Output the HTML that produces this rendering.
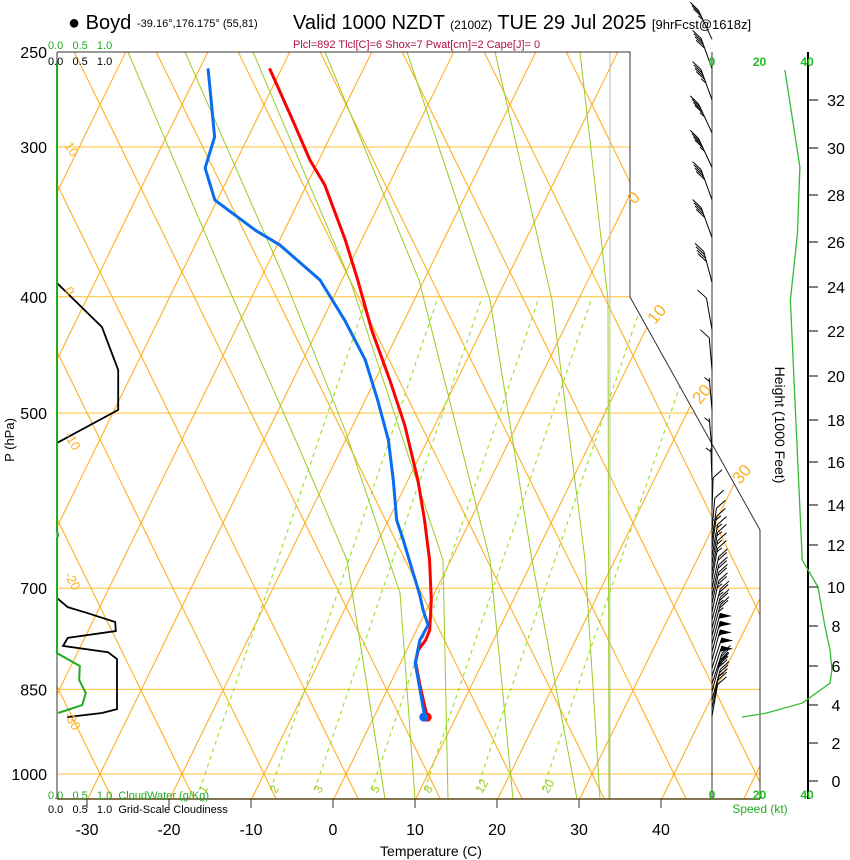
<!DOCTYPE html>
<html><head><meta charset="utf-8"><style>
body{margin:0;background:#fff;}
svg{display:block;font-family:"Liberation Sans",sans-serif;}
</style></head><body>
<svg id="chart" width="850" height="860" viewBox="0 0 850 860" xmlns="http://www.w3.org/2000/svg">
<defs><clipPath id="plotclip"><polygon points="57,52 630,52 630,297 760,530 760,799 57,799"/></clipPath></defs>
<g id="grid" clip-path="url(#plotclip)"></g>
<g id="frame">
<polyline points="57,52 630,52 630,297 760,530 760,799" fill="none" stroke="#333" stroke-width="1"/>
<line x1="57" y1="799" x2="760" y2="799" stroke="#5a4a1a" stroke-width="1.5"/>
<line x1="57" y1="52" x2="57" y2="799" stroke="#333" stroke-width="1"/>
<line x1="712" y1="52" x2="712" y2="799" stroke="#333" stroke-width="1"/>
<line x1="808" y1="52" x2="808" y2="799" stroke="#000" stroke-width="2"/>
</g>
<g id="series"></g>
<g id="labels" font-size="16" fill="#000">
<text x="68" y="29" font-size="20">● Boyd</text>
<text x="137" y="27" font-size="11">-39.16°,176.175° (55,81)</text>
<text x="293" y="29" font-size="20">Valid 1000 NZDT <tspan font-size="12">(2100Z)</tspan> TUE 29 Jul 2025 <tspan font-size="13">[9hrFcst@1618z]</tspan></text>
<text x="293" y="48" font-size="11" fill="#b0104a">Plcl=892 Tlcl[C]=6 Shox=7 Pwat[cm]=2 Cape[J]= 0</text>
<text x="48" y="49" font-size="11" fill="#22aa22">0.0 &#160; 0.5 &#160; 1.0</text>
<text x="48" y="65" font-size="11">0.0 &#160; 0.5 &#160; 1.0</text>
<text x="48" y="799" font-size="11" fill="#22aa22">0.0 &#160; 0.5 &#160; 1.0 &#160;CloudWater (g/Kg)</text>
<text x="48" y="813" font-size="11">0.0 &#160; 0.5 &#160; 1.0 &#160;Grid-Scale Cloudiness</text>
<text x="14" y="440" font-size="13" transform="rotate(-90 14 440)" text-anchor="middle">P (hPa)</text>
<text x="431" y="856" font-size="14" text-anchor="middle">Temperature (C)</text>
<text x="775" y="425" font-size="14" transform="rotate(90 775 425)" text-anchor="middle">Height (1000 Feet)</text>
<text x="760" y="813" font-size="12" fill="#22aa22" text-anchor="middle">Speed (kt)</text>
</g>
</svg>
<script>
// ---- data ----
const pressureTicks=[250,300,400,500,700,850,1000];
const tempTicks=[-30,-20,-10,0,10,20,30,40];
const heightTicks=[0,2,4,6,8,10,12,14,16,18,20,22,24,26,28,30,32];
const heightTickY=[781,743,705,666,626,587,545,505,462,420,376,331,287,242,195,148,100];
const speedTicks=[0,20,40,60];
const tempP=[258,282,307.6,322.7,358.7,387.3,426.4,469.4,511.7,568.8,614.2,663.2,716.1,758.6,773.4,788.4,806.8,843.2,896.6];
const tempC=[-51.4,-46.1,-41.0,-37.7,-31.9,-28.0,-23.3,-18.1,-13.6,-8.7,-5.5,-2.5,0.1,1.7,1.8,1.5,1.9,3.8,6.6];
const dewP=[258,266.4,294.3,312.4,332.2,351.9,362.1,387.3,418.3,451.6,487.7,526.6,568.8,614.2,638.2,676.2,709.3,730,751.3,773.4,808.3,835.1,896.6];
const dewC=[-58.9,-57.7,-54.0,-53.3,-50.2,-43.5,-39.6,-32.6,-27.2,-22.3,-18.4,-14.7,-11.7,-8.9,-6.9,-4.0,-1.6,-0.3,1.2,1.1,1.9,3.3,6.3];
const cloudUpP=[389.6,424,460.4,497,529.6];
const cloudUpF=[0,0.75,1.02,1.02,0];
const cloudLoP=[713.4,725.9,734,747,760,770,782,791.5,802,883,889.5,896.6];
const cloudLoF=[0,0.18,0.5,0.97,0.98,0.18,0.1,0.85,1.0,1.0,0.75,0.17];
const cwP=[255,628,632,636,792.9,812.7,835,856,876,889.5];
const cwF=[0,0,0.02,0,0,0.38,0.37,0.48,0.42,0.02];
const spdP=[258.8,311.8,354,402.6,663.2,698,754,788,819,840,872.7,889.5,896.6];
const spdKt=[30.7,37,36,33,38,44.6,47.6,49.7,50.5,49.7,38,23,12.6];
const barbP=[244,258,274,292,312,332,357,389,426,460,497,537,569,602,626,638,648,658,668,679,689,700,711,721,733,744,756,767,779,791,804,816,829,841,854,868,881,895];
const barbSpd=[35,40,45,45,45,40,40,40,10,10,5,5,5,10,10,10,15,15,15,15,15,20,20,20,25,25,25,25,50,55,55,50,50,45,30,25,20,10];
const barbDir=[335,340,340,335,335,340,340,345,350,355,355,355,358,2,5,8,8,10,10,10,10,12,12,12,12,15,15,15,15,15,15,18,18,18,15,15,12,10];
const mixRatios=['1','2','3','5','8','12','20'];
const mixX1000=[205,276,320,377,430,482,548];
// ---- scales ----
function yP(p){return 52+520.8*Math.log(p/250);}
function xT(T,p){return 333+8.2*T+0.49*(799-yP(p));}
function xF(f){return 57+60*f;}
function xS(s){return 712+s*47.5/20;}
const NS='http://www.w3.org/2000/svg';
function mk(tag,attrs,parent){const e=document.createElementNS(NS,tag);for(const k in attrs)e.setAttribute(k,attrs[k]);parent.appendChild(e);return e;}
const grid=document.getElementById('grid');
const series=document.getElementById('series');
const labels=document.getElementById('labels');
pressureTicks.forEach(p=>{const y=yP(p);
 const l=mk('line',{x1:57,y1:y,x2:760,y2:y,stroke:'#ffc030','stroke-width':1},grid);
 
 
 const t=mk('text',{x:47,y:y+6,'text-anchor':'end','font-size':16},labels);t.textContent=p;
 
 
});
for(let k=-14;k<=12;k++){
 const x0=346+82*k;
 const a=mk('line',{x1:x0+0.49*(774-820),y1:820,x2:x0+0.49*(774-40),y2:40,stroke:'#ffb020','stroke-width':1.1},grid);
 
 
 const b=mk('line',{x1:x0-0.49*(774-820),y1:820,x2:x0-0.49*(774-40),y2:40,stroke:'#ffb020','stroke-width':1.1},grid);
 
 
}
const moist=[[[128,52],[225,280],[300,450],[347,560],[385,799]],[[185,52],[285,280],[345,430],[400,593],[415,799]],[[253,52],[350,280],[443,560],[448,799]],[[325,52],[419,280],[490,560],[513,799]],[[407,52],[490,300],[532,560],[577,799]],[[495,52],[552,300],[585,560],[600,799]],[[580,52],[608,300],[609,799]]];
moist.forEach(pts=>{const m=mk('polyline',{points:pts.map(q=>q.join(',')).join(' '),fill:'none',stroke:'#99cc22','stroke-width':1},grid);
 
 });
mk('line',{x1:610,y1:52,x2:610,y2:799,stroke:'#bbbbbb','stroke-width':1},grid);
mixRatios.forEach((r,i)=>{const x0=mixX1000[i];
 const m=mk('line',{x1:x0+0.34*(774-790),y1:790,x2:x0+0.34*(774-297),y2:297,stroke:'#99dd22','stroke-width':1.1,'stroke-dasharray':'4,4'},grid);
 
 
 const t=mk('text',{x:x0,y:794,'font-size':12,fill:'#99cc22',transform:'rotate(-60 '+x0+' 794)'},labels);t.textContent=r;
 
 
});
[['10',64,145],['0',64,290],['-10',64,435],['-20',64,575],['-30',64,715]].forEach(a=>{const t=mk('text',{x:a[1],y:a[2],'font-size':13,fill:'#ffb020',transform:'rotate(60 '+a[1]+' '+a[2]+')'},labels);t.textContent=a[0];
 
 });
[['0',635,205],['10',655,325],['20',700,405],['30',740,485]].forEach(a=>{const t=mk('text',{x:a[1],y:a[2],'font-size':17,fill:'#ffb020',transform:'rotate(-50 '+a[1]+' '+a[2]+')'},labels);t.textContent=a[0];
 
 });
tempTicks.forEach(T=>{const x=333+8.2*T;
 mk('line',{x1:x,y1:799,x2:x,y2:808,stroke:'#333'},labels);
 const t=mk('text',{x:x,y:835,'text-anchor':'middle','font-size':16},labels);t.textContent=T;
 
 });
heightTicks.forEach((h,i)=>{const y=heightTickY[i];
 mk('line',{x1:808,y1:y,x2:818,y2:y,stroke:'#000'},labels);
 const t=mk('text',{x:836,y:y+6,'text-anchor':'middle','font-size':16},labels);t.textContent=h;
 
 });
speedTicks.forEach(s=>{[66,799].forEach(y=>{const x=xS(s);
 const t=mk('text',{x:x,y:y,'text-anchor':'middle','font-size':12,'font-weight':'bold',fill:'#22bb22'},labels);t.textContent=(s===60?'6':s);
 
 });});
const sp=mk('polyline',{points:spdP.map((p,i)=>xS(spdKt[i])+','+yP(p)).join(' '),fill:'none',stroke:'#33bb33','stroke-width':1.3},series);


[[cloudUpP,cloudUpF],[cloudLoP,cloudLoF]].forEach((c,j)=>{const pl=mk('polyline',{points:c[0].map((p,i)=>xF(c[1][i])+','+yP(p)).join(' '),fill:'none',stroke:'#000','stroke-width':1.8},series);
 
 });
const cw=mk('polyline',{points:cwP.map((p,i)=>xF(cwF[i])+','+yP(p)).join(' '),fill:'none',stroke:'#22aa22','stroke-width':2},series);


const tl=mk('polyline',{points:tempP.map((p,i)=>xT(tempC[i],p)+','+yP(p)).join(' '),fill:'none',stroke:'#ff0000','stroke-width':3,'stroke-linejoin':'round'},series);


const dl=mk('polyline',{points:dewP.map((p,i)=>xT(dewC[i],p)+','+yP(p)).join(' '),fill:'none',stroke:'#0a6cf0','stroke-width':3,'stroke-linejoin':'round'},series);


const n=tempP.length-1;
const td=mk('circle',{cx:xT(tempC[n],tempP[n]),cy:yP(tempP[n]),r:4.5,fill:'#ff0000'},series);


const m2=dewP.length-1;
const dd=mk('circle',{cx:xT(dewC[m2],dewP[m2])-1,cy:yP(dewP[m2]),r:4.5,fill:'#0a6cf0'},series);


barbP.forEach((p,i)=>{
 const g=mk('g',{},series);
 
 
 const bx=712,by=yP(p),L=32,r=barbDir[i]*Math.PI/180;
 const ux=Math.sin(r),uy=-Math.cos(r);
 const side=ux<0?-1:1;
 const px=side*Math.abs(uy),py=0;
 const tx=bx+ux*L,ty=by+uy*L;
 mk('line',{x1:bx,y1:by,x2:tx,y2:ty,stroke:'#000','stroke-width':1},g);
 let s=barbSpd[i],d=0;
 while(s>=50){const ax=tx-ux*d,ay=ty-uy*d;
  mk('polygon',{points:ax+','+ay+' '+(ax+px*12)+','+(ay+py*12+3)+' '+(ax-ux*6)+','+(ay-uy*6),fill:'#000'},g);
  d+=7;s-=50;}
 while(s>=10){const ax=tx-ux*d,ay=ty-uy*d;
  mk('line',{x1:ax,y1:ay,x2:ax+px*9,y2:ay-8,stroke:'#000','stroke-width':1},g);d+=3.5;s-=10;}
 if(s>=5){if(d===0)d=3.5;const ax=tx-ux*d,ay=ty-uy*d;
  mk('line',{x1:ax,y1:ay,x2:ax+px*5,y2:ay-4,stroke:'#000','stroke-width':1},g);}
});
</script>
</body></html>
